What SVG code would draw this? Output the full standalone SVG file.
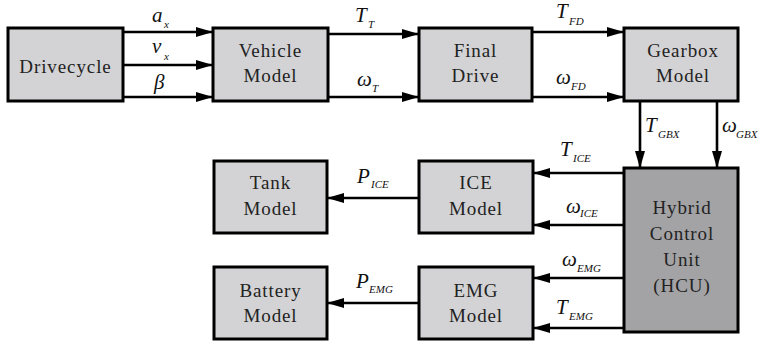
<svg xmlns="http://www.w3.org/2000/svg" width="766" height="343" viewBox="0 0 766 343">
<style>
.box{fill:#d3d3d5;stroke:#000;stroke-width:3}
.hcu{fill:#a3a3a5;stroke:#000;stroke-width:3}
.nt{font-family:'Liberation Serif','Times New Roman',serif;font-size:19px;fill:#222;text-anchor:middle;letter-spacing:0.9px}
.c{stroke:#000;stroke-width:2.6;fill:none;marker-end:url(#ah)}
.m{font-family:'Liberation Serif','Times New Roman',serif;font-style:italic;font-size:21px;fill:#111}
.s{font-family:'Liberation Serif','Times New Roman',serif;font-style:italic;font-size:11px;fill:#111}
</style>
<defs>
<marker id="ah" markerUnits="userSpaceOnUse" markerWidth="18" markerHeight="12" refX="17" refY="5" orient="auto">
<path d="M0,0 L17,5 L0,10 Z" fill="#000"/>
</marker>
</defs>
<g id="drivecycle"><rect class="box" x="8" y="28" width="115" height="73"/><text class="nt" x="65.5" y="73">Drivecycle</text></g>
<g id="vehicle"><rect class="box" x="213" y="28" width="115" height="73"/><text class="nt" x="270.5" y="57">Vehicle</text><text class="nt" x="270.5" y="82">Model</text></g>
<g id="finaldrive"><rect class="box" x="419" y="28" width="113" height="73"/><text class="nt" x="475.5" y="57">Final</text><text class="nt" x="475.5" y="82">Drive</text></g>
<g id="gearbox"><rect class="box" x="624" y="28" width="114" height="73"/><text class="nt" x="683" y="57">Gearbox</text><text class="nt" x="683" y="82">Model</text></g>
<g id="tank"><rect class="box" x="214" y="161" width="113" height="72"/><text class="nt" x="270.5" y="189">Tank</text><text class="nt" x="270.5" y="215">Model</text></g>
<g id="ice"><rect class="box" x="419" y="161" width="114" height="72"/><text class="nt" x="476" y="189">ICE</text><text class="nt" x="476" y="215">Model</text></g>
<g id="battery"><rect class="box" x="214" y="267" width="113" height="72"/><text class="nt" x="270.5" y="297">Battery</text><text class="nt" x="270.5" y="322">Model</text></g>
<g id="emg"><rect class="box" x="419" y="267" width="114" height="72"/><text class="nt" x="476" y="297">EMG</text><text class="nt" x="476" y="322">Model</text></g>
<g id="hcu"><rect class="hcu" x="624" y="168" width="114" height="164"/><text class="nt" x="682" y="214">Hybrid</text><text class="nt" x="682" y="240">Control</text><text class="nt" x="682" y="266">Unit</text><text class="nt" x="682" y="292">(HCU)</text></g>
<g id="connectors">
<line class="c" x1="123" y1="32" x2="213" y2="32"/>
<line class="c" x1="123" y1="65" x2="213" y2="65"/>
<line class="c" x1="123" y1="97" x2="213" y2="97"/>
<line class="c" x1="328" y1="34" x2="419" y2="34"/>
<line class="c" x1="328" y1="97" x2="419" y2="97"/>
<line class="c" x1="532" y1="32" x2="624" y2="32"/>
<line class="c" x1="532" y1="97" x2="624" y2="97"/>
<line class="c" x1="640" y1="101" x2="640" y2="168"/>
<line class="c" x1="717" y1="101" x2="717" y2="168"/>
<line class="c" x1="624" y1="173" x2="533" y2="173"/>
<line class="c" x1="624" y1="225" x2="533" y2="225"/>
<line class="c" x1="624" y1="278" x2="533" y2="278"/>
<line class="c" x1="624" y1="328" x2="533" y2="328"/>
<line class="c" x1="419" y1="198" x2="327" y2="198"/>
<line class="c" x1="419" y1="303" x2="327" y2="303"/>
</g>
<g id="labels">
<text class="m" x="152" y="22">a</text><text class="s" x="164" y="28">x</text>
<text class="m" x="152" y="53">v</text><text class="s" x="164" y="60">x</text>
<text class="m" x="154" y="89">β</text>
<text class="m" x="355" y="22">T</text><text class="s" x="368" y="28">T</text>
<text class="m" x="357" y="86">ω</text><text class="s" x="372" y="92">T</text>
<text class="m" x="556" y="18">T</text><text class="s" x="569" y="25">FD</text>
<text class="m" x="556" y="84">ω</text><text class="s" x="571" y="90">FD</text>
<text class="m" x="645" y="132">T</text><text class="s" x="658" y="138">GBX</text>
<text class="m" x="722" y="132">ω</text><text class="s" x="736" y="138">GBX</text>
<text class="m" x="560" y="156">T</text><text class="s" x="573" y="162">ICE</text>
<text class="m" x="566" y="213">ω</text><text class="s" x="580" y="217">ICE</text>
<text class="m" x="562" y="266">ω</text><text class="s" x="577" y="272">EMG</text>
<text class="m" x="556" y="314">T</text><text class="s" x="569" y="320">EMG</text>
<text class="m" x="357" y="183">P</text><text class="s" x="371" y="188">ICE</text>
<text class="m" x="356" y="288">P</text><text class="s" x="369" y="293">EMG</text>
</g>
</svg>
